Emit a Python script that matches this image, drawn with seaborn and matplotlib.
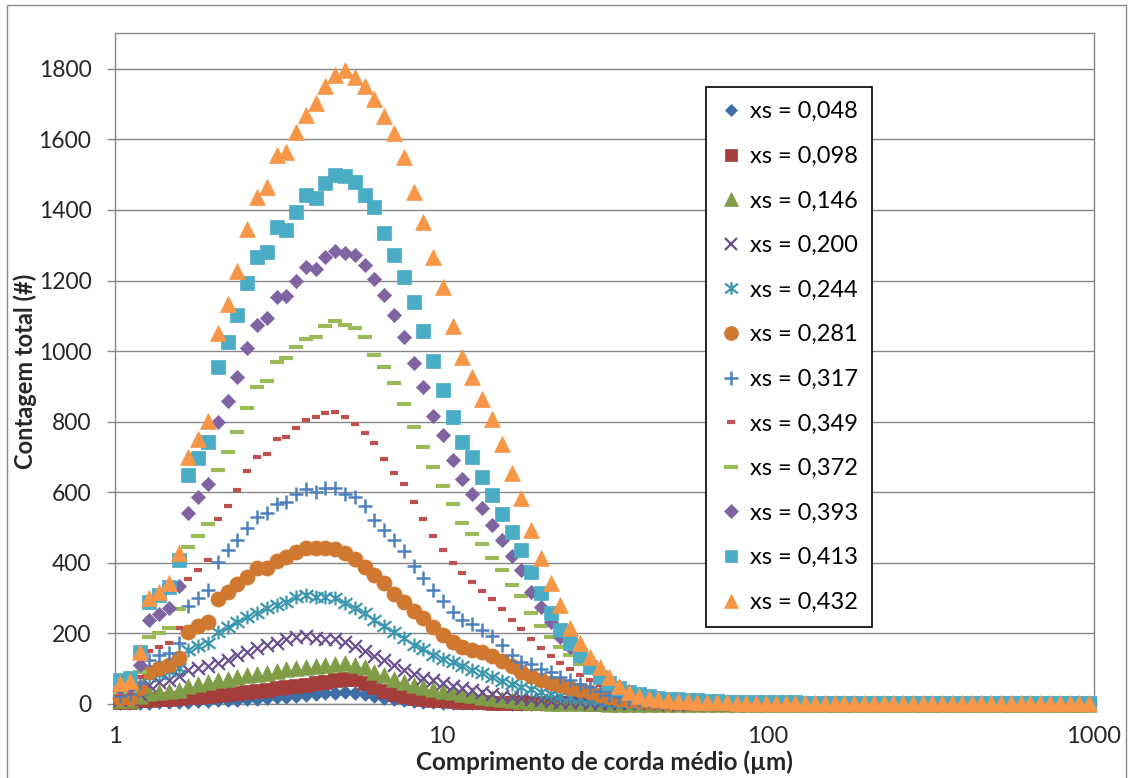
import matplotlib
matplotlib.use("Agg")
import numpy as np
import pandas as pd
import matplotlib.pyplot as plt
import seaborn as sns
from matplotlib.path import Path
from matplotlib.lines import Line2D
from matplotlib.patches import Rectangle

# Chord-length channel midpoints (um), log-spaced FBRM channels
chord_um = [
    1.035, 1.109, 1.189, 1.274, 1.365, 1.462, 1.567, 1.679, 1.799, 1.928,
    2.065, 2.213, 2.371, 2.541, 2.723, 2.917, 3.126, 3.350, 3.589, 3.846,
    4.121, 4.416, 4.732, 5.070, 5.433, 5.821, 6.237, 6.683, 7.161, 7.674,
    8.222, 8.810, 9.441, 10.12, 10.84, 11.61, 12.45, 13.34, 14.29, 15.31,
    16.41, 17.58, 18.84, 20.18, 21.63, 23.17, 24.83, 26.61, 28.51, 30.55,
    32.73, 35.08, 37.58, 40.27, 43.15, 46.24, 49.55, 53.09, 56.89, 60.95,
    65.31, 69.98, 74.99, 80.35, 86.10, 92.26, 98.86, 105.9, 113.5, 121.6,
    130.3, 139.6, 149.6, 160.3, 171.8, 184.1, 197.2, 211.4, 226.5, 242.7,
    260.0, 278.6, 298.5, 319.9, 342.8, 367.3, 393.6, 421.7, 451.9, 484.2,
    518.8, 555.9, 595.7, 638.3, 683.9, 732.8, 785.2, 841.4, 901.6, 966.1,
]

series_labels = [
    "xs = 0,048", "xs = 0,098", "xs = 0,146", "xs = 0,200",
    "xs = 0,244", "xs = 0,281", "xs = 0,317", "xs = 0,349",
    "xs = 0,372", "xs = 0,393", "xs = 0,413", "xs = 0,432",
]

count_048 = [
    2, 2, 3, 4, 5, 5, 6, 7, 8, 9,
    10, 11, 12, 14, 15, 17, 19, 21, 23, 25,
    28, 30, 32, 33, 31, 27, 22, 18, 14, 11,
    9, 7, 5, 4, 3, 3, 2, 2, 2, 2,
    1, 1, 1, 1, 1, 1, 1, 1, 1, 1,
    1, 1, 1, 1, 1, 1, 1, 1, 1, 1,
    1, 1, 1, 1, 1, 1, 1, 1, 1, 1,
    1, 1, 1, 1, 1, 1, 1, 1, 1, 1,
    1, 1, 1, 1, 1, 1, 1, 1, 1, 1,
    1, 1, 1, 1, 1, 1, 1, 1, 1, 1,
]
count_098 = [
    6, 7, 10, 12, 13, 15, 16, 19, 21, 23,
    26, 28, 31, 34, 37, 40, 44, 47, 51, 55,
    59, 63, 67, 71, 70, 60, 47, 37, 28, 22,
    18, 15, 12, 10, 8, 7, 6, 5, 4, 4,
    3, 3, 3, 2, 2, 2, 2, 2, 1, 1,
    1, 1, 1, 1, 1, 1, 1, 1, 1, 1,
    1, 1, 1, 1, 1, 1, 1, 1, 1, 1,
    1, 1, 1, 1, 1, 1, 1, 1, 1, 1,
    1, 1, 1, 1, 1, 1, 1, 1, 1, 1,
    1, 1, 1, 1, 1, 1, 1, 1, 1, 1,
]
count_146 = [
    10, 11, 22, 30, 33, 36, 40, 50, 57, 61,
    67, 71, 76, 81, 85, 89, 94, 98, 102, 106,
    108, 110, 114, 117, 110, 104, 92, 82, 72, 61,
    53, 47, 43, 38, 33, 28, 25, 21, 17, 13,
    10, 8, 6, 5, 4, 3, 3, 2, 2, 2,
    1, 1, 1, 1, 1, 1, 1, 1, 1, 1,
    1, 1, 1, 1, 1, 1, 1, 1, 1, 1,
    1, 1, 1, 1, 1, 1, 1, 1, 1, 1,
    1, 1, 1, 1, 1, 1, 1, 1, 1, 1,
    1, 1, 1, 1, 1, 1, 1, 1, 1, 1,
]
count_200 = [
    12, 13, 27, 55, 62, 68, 80, 97, 103, 108,
    117, 125, 139, 148, 158, 167, 174, 183, 191, 193,
    186, 183, 184, 175, 165, 150, 137, 124, 110, 95,
    84, 75, 67, 60, 50, 44, 40, 33, 28, 23,
    20, 17, 14, 11, 9, 7, 6, 5, 4, 3,
    3, 2, 2, 2, 2, 2, 1, 1, 1, 1,
    1, 1, 1, 1, 1, 1, 1, 1, 1, 1,
    1, 1, 1, 1, 1, 1, 1, 1, 1, 1,
    1, 1, 1, 1, 1, 1, 1, 1, 1, 1,
    1, 1, 1, 1, 1, 1, 1, 1, 1, 1,
]
count_244 = [
    22, 24, 40, 79, 86, 93, 103, 154, 163, 173,
    203, 219, 233, 247, 259, 271, 281, 290, 304, 309,
    302, 304, 300, 286, 273, 258, 238, 220, 205, 186,
    167, 155, 139, 128, 120, 108, 96, 87, 76, 64,
    57, 49, 42, 35, 29, 24, 20, 16, 13, 10,
    8, 6, 5, 4, 3, 3, 2, 2, 2, 2,
    2, 2, 1, 1, 1, 1, 1, 1, 1, 1,
    1, 1, 1, 1, 1, 1, 1, 1, 1, 1,
    1, 1, 1, 1, 1, 1, 1, 1, 1, 1,
    1, 1, 1, 1, 1, 1, 1, 1, 1, 1,
]
count_281 = [
    16, 18, 46, 92, 101, 111, 130, 203, 220, 233,
    297, 318, 340, 361, 385, 385, 406, 416, 432, 443,
    443, 443, 438, 427, 410, 387, 366, 342, 313, 289,
    264, 243, 219, 196, 177, 162, 154, 146, 136, 122,
    107, 92, 79, 68, 60, 53, 46, 39, 33, 26,
    20, 15, 11, 8, 6, 5, 4, 3, 3, 2,
    2, 2, 2, 2, 2, 1, 1, 1, 1, 1,
    1, 1, 1, 1, 1, 1, 1, 1, 1, 1,
    1, 1, 1, 1, 1, 1, 1, 1, 1, 1,
    1, 1, 1, 1, 1, 1, 1, 1, 1, 1,
]
count_317 = [
    24, 27, 60, 125, 139, 145, 172, 278, 300, 323,
    403, 437, 465, 498, 531, 541, 567, 571, 595, 610,
    602, 611, 611, 596, 587, 561, 522, 493, 465, 434,
    390, 356, 324, 292, 262, 238, 227, 210, 193, 167,
    139, 120, 113, 100, 90, 77, 68, 57, 48, 37,
    26, 19, 14, 10, 8, 6, 5, 4, 4, 3,
    3, 3, 2, 2, 2, 2, 2, 2, 2, 2,
    1, 1, 1, 1, 1, 1, 1, 1, 1, 1,
    1, 1, 1, 1, 1, 1, 1, 1, 1, 1,
    1, 1, 1, 1, 1, 1, 1, 1, 1, 1,
]
count_349 = [
    28, 32, 76, 151, 162, 174, 215, 353, 380, 408,
    524, 562, 607, 659, 701, 709, 750, 756, 783, 804,
    812, 826, 827, 814, 794, 769, 741, 695, 656, 623,
    572, 524, 476, 435, 399, 370, 345, 321, 298, 270,
    238, 213, 183, 160, 136, 115, 98, 82, 67, 54,
    43, 34, 27, 21, 16, 13, 10, 8, 7, 6,
    5, 4, 4, 3, 3, 3, 3, 2, 2, 2,
    2, 2, 2, 2, 2, 2, 2, 2, 1, 1,
    1, 1, 1, 1, 1, 1, 1, 1, 1, 1,
    1, 1, 1, 1, 1, 1, 1, 1, 1, 1,
]
count_372 = [
    35, 38, 92, 189, 202, 216, 268, 444, 476, 510,
    663, 715, 772, 840, 897, 916, 970, 980, 1011, 1034,
    1041, 1071, 1084, 1074, 1065, 1041, 989, 954, 911, 850,
    784, 729, 673, 619, 567, 514, 481, 454, 413, 380,
    338, 306, 259, 221, 191, 162, 139, 114, 92, 72,
    56, 43, 33, 25, 19, 15, 12, 10, 8, 7,
    6, 5, 5, 4, 4, 3, 3, 3, 3, 3,
    2, 2, 2, 2, 2, 2, 2, 2, 2, 2,
    2, 2, 2, 2, 2, 2, 2, 2, 2, 2,
    2, 2, 2, 2, 2, 2, 2, 2, 2, 2,
]
count_393 = [
    45, 48, 110, 238, 254, 273, 334, 542, 586, 622,
    798, 860, 928, 1008, 1074, 1093, 1154, 1157, 1200, 1238,
    1233, 1268, 1285, 1278, 1273, 1244, 1204, 1159, 1103, 1041,
    966, 897, 816, 761, 692, 637, 596, 555, 507, 465,
    420, 380, 318, 276, 233, 191, 162, 135, 108, 85,
    64, 48, 36, 27, 21, 16, 13, 11, 9, 8,
    7, 6, 5, 5, 4, 4, 4, 3, 3, 3,
    3, 3, 3, 3, 3, 2, 2, 2, 2, 2,
    2, 2, 2, 2, 2, 2, 2, 2, 2, 2,
    2, 2, 2, 2, 2, 2, 2, 2, 2, 2,
]
count_413 = [
    68, 73, 148, 290, 309, 332, 408, 649, 696, 743,
    954, 1027, 1103, 1192, 1268, 1280, 1353, 1342, 1395, 1443,
    1433, 1476, 1499, 1495, 1480, 1443, 1407, 1336, 1273, 1209,
    1139, 1058, 973, 890, 814, 743, 699, 643, 592, 539,
    488, 437, 375, 314, 257, 210, 172, 139, 106, 77,
    59, 44, 35, 28, 22, 18, 15, 13, 11, 10,
    9, 8, 7, 7, 6, 6, 5, 5, 5, 5,
    4, 4, 4, 4, 4, 4, 4, 4, 4, 4,
    4, 4, 4, 4, 4, 4, 4, 4, 4, 4,
    4, 4, 4, 4, 4, 4, 4, 4, 4, 4,
]
count_432 = [
    60, 66, 148, 300, 318, 342, 429, 701, 750, 803,
    1051, 1134, 1228, 1345, 1438, 1466, 1556, 1565, 1622, 1669,
    1703, 1750, 1783, 1797, 1778, 1750, 1714, 1667, 1618, 1550,
    1451, 1366, 1268, 1181, 1071, 983, 928, 865, 807, 736,
    656, 585, 493, 413, 342, 281, 214, 172, 134, 106,
    76, 52, 33, 24, 18, 14, 11, 9, 8, 7,
    6, 5, 5, 4, 4, 4, 3, 3, 3, 3,
    3, 3, 3, 3, 2, 2, 2, 2, 2, 2,
    2, 2, 2, 2, 2, 2, 2, 2, 2, 2,
    2, 2, 2, 2, 2, 2, 2, 2, 2, 2,
]

series_counts = [
    count_048, count_098, count_146, count_200, count_244, count_281,
    count_317, count_349, count_372, count_393, count_413, count_432,
]

y_ticks = [0, 200, 400, 600, 800, 1000, 1200, 1400, 1600, 1800]
x_ticks = [1, 10, 100, 1000]
x_tick_labels = ["1", "10", "100", "1000"]

# Long-form table for seaborn
df = pd.DataFrame({
    "chord": np.tile(chord_um, len(series_labels)),
    "count": np.concatenate(series_counts),
    "series": np.repeat(series_labels, len(chord_um)),
})

# Six-armed star (X with a vertical bar)
star = Path([(0, -0.5), (0, 0.5), (-0.5, -0.38), (0.5, 0.38), (-0.5, 0.38), (0.5, -0.38)],
            [Path.MOVETO, Path.LINETO] * 3)

# marker, area (pt^2), line width, colour
styles = [
    ("D", 48, 0.5, "#3F6DA5"),
    ("s", 95, 0.5, "#A53E3A"),
    ("^", 125, 0.5, "#7F9C46"),
    ("x", 85, 1.6, "#6B4F8E"),
    (star, 100, 1.6, "#3A96AD"),
    ("o", 118, 0.5, "#D0782F"),
    ("+", 112, 1.8, "#4F81BD"),
    ("_", 34, 3.0, "#C0504D"),
    ("_", 110, 3.0, "#9BBB59"),
    ("D", 52, 0.5, "#8064A2"),
    ("s", 100, 0.5, "#4BACC6"),
    ("^", 130, 0.5, "#F79646"),
]

sns.set_theme(style="white")
plt.rcParams["font.family"] = ["Lato", "DejaVu Sans"]
plt.rcParams["text.color"] = "#000000"

W, H = 1132, 778
fig = plt.figure(figsize=(W / 100, H / 100), dpi=100)
ax_left, ax_right, ax_top, ax_bottom = 115, 1094, 33.5, 704
ax = fig.add_axes([ax_left / W, 1 - ax_bottom / H,
                   (ax_right - ax_left) / W, (ax_bottom - ax_top) / H])

handles = []
for k, (label, (mk, size, lw, col)) in enumerate(zip(series_labels, styles)):
    sub = df[df["series"] == label]
    sns.scatterplot(data=sub, x="chord", y="count", marker=mk, s=size,
                    color=col, edgecolor=col, linewidth=lw, clip_on=False,
                    legend=False, ax=ax, zorder=3 + k)
    handles.append(Line2D([], [], ls="none", marker=mk, markersize=np.sqrt(size) * 0.92,
                          color=col, markeredgecolor=col, markeredgewidth=lw))

grid_col = "#878787"
ax.set_xscale("log")
ax.set_xlim(1, 1000)
ax.set_ylim(0, 1900)
ax.set_yticks(y_ticks)
ax.set_yticklabels([str(v) for v in y_ticks])
ax.set_xticks(x_ticks)
ax.set_xticklabels(x_tick_labels)
ax.xaxis.set_minor_locator(matplotlib.ticker.NullLocator())
ax.yaxis.grid(True, color=grid_col, linewidth=1.0)
ax.xaxis.grid(False)
ax.set_axisbelow(True)
for side in ["left", "right", "top", "bottom"]:
    ax.spines[side].set_color(grid_col)
    ax.spines[side].set_linewidth(1.0)

ax.tick_params(axis="y", which="major", direction="out", length=5.5, width=1.0,
               color=grid_col, pad=11.5, labelsize=16.5, left=True)
ax.tick_params(axis="x", which="major", direction="out", length=3, width=1.0,
               color=grid_col, pad=13, labelsize=17, bottom=True)

ax.set_xlabel("Comprimento de corda médio (µm)", fontsize=17.5, fontweight="bold")
ax.set_ylabel("Contagem total (#)", fontsize=17, fontweight="bold")
ax.xaxis.set_label_coords(0.5, (ax_bottom - 762) / (ax_bottom - ax_top))
ax.xaxis.label.set_va("center")
ax.yaxis.set_label_coords((25 - ax_left) / (ax_right - ax_left), 0.4965)
ax.yaxis.label.set_va("center")

leg = ax.legend(handles, series_labels, loc="upper left",
                bbox_to_anchor=((706 - ax_left) / (ax_right - ax_left),
                                (ax_bottom - 87) / (ax_bottom - ax_top)),
                bbox_transform=ax.transAxes, frameon=True, fancybox=False,
                edgecolor="black", framealpha=1, fontsize=17,
                labelspacing=1.0, handlelength=0.9, handletextpad=0.35,
                borderpad=0.6, borderaxespad=0)
leg.get_frame().set_linewidth(1.2)
leg.set_zorder(20)

# Chart-area border
fig.patches.append(Rectangle((7 / W, -0.01), (1126 - 7) / W, 1 - 5 / H + 0.01,
                             transform=fig.transFigure, fill=False,
                             edgecolor="#8A8A8A", linewidth=1.0))

fig.savefig("out.png", dpi=100, facecolor="white")
